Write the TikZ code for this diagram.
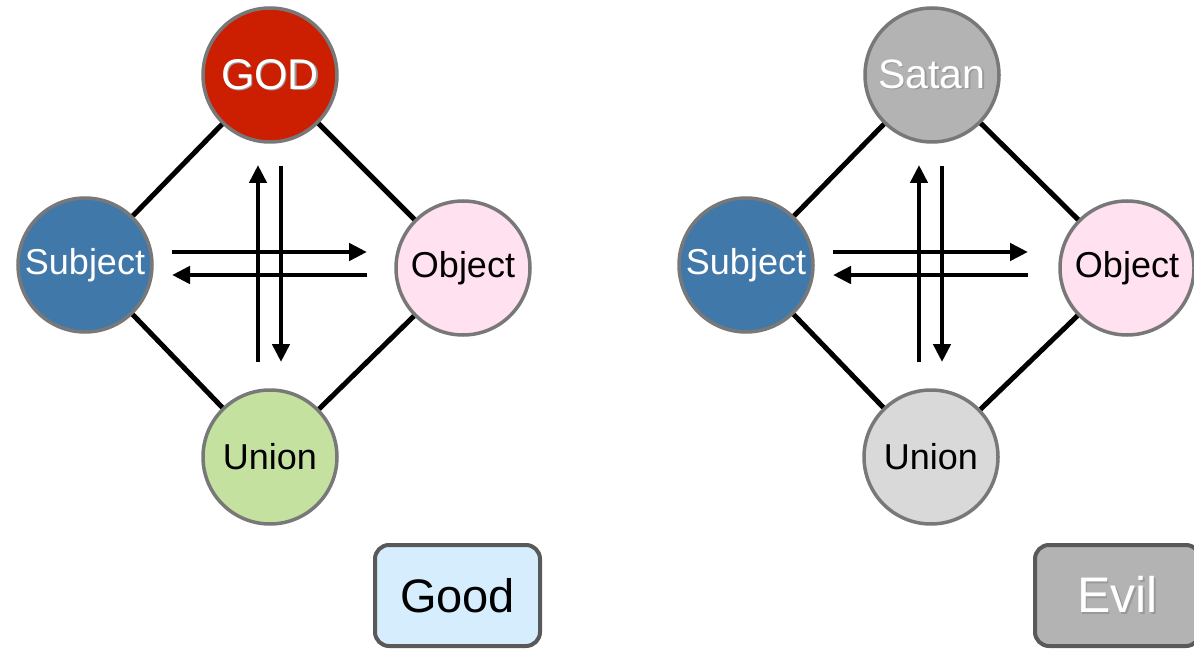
\documentclass[tikz,border=0pt]{standalone}
\usepackage{fontspec}
\setmainfont{Liberation Sans}
\usetikzlibrary{arrows.meta, positioning, calc}

\definecolor{godred}{HTML}{CC1E00}
\definecolor{subjblue}{HTML}{4178AA}
\definecolor{objpink}{HTML}{FFE1F0}
\definecolor{unigreen}{HTML}{C4E1A0}
\definecolor{satgray}{HTML}{B3B3B3}
\definecolor{unigray}{HTML}{D9D9D9}
\definecolor{goodblue}{HTML}{D5EDFC}
\definecolor{ringgray}{HTML}{787878}
\definecolor{boxgray}{HTML}{595959}

% white text with a soft grey shadow
\newcommand{\shadowtxt}[1]{\rlap{\hspace{1.5pt}\raisebox{-1.5pt}{\textcolor{black!40}{#1}}}#1}

\begin{document}
\begin{tikzpicture}[x=1pt, y=-1pt,
  ball/.style={circle, draw=ringgray, line width=3.5pt, minimum size=134pt, inner sep=0pt,
    font=\fontsize{36}{42}\selectfont},
  tag/.style={rectangle, rounded corners=14pt, draw=boxgray, line width=4pt,
    minimum width=165pt, minimum height=101pt, font=\fontsize{47}{54}\selectfont},
  link/.style={line width=5pt},
  flow/.style={line width=4.5pt, -{Triangle[length=18pt, width=17pt]}}]
  \useasboundingbox (0,0) rectangle (1194,652);

  % good side
  \node[ball, fill=godred, text=white, font=\fontsize{43}{50}\selectfont] (god) at (270,75) {\shadowtxt{GOD}};
  \node[ball, fill=subjblue, text=white] (subjL) at (85,265) {Subject};
  \node[ball, fill=objpink] (objL) at (463,268) {Object};
  \node[ball, fill=unigreen] (uniL) at (270,457) {Union};
  \draw[link] (god) -- (subjL);
  \draw[link] (god) -- (objL);
  \draw[link] (subjL) -- (uniL);
  \draw[link] (objL) -- (uniL);
  \coordinate (upL0) at (258,362); \coordinate (upL1) at (258,165);
  \coordinate (dnL0) at (281,166); \coordinate (dnL1) at (281,362);
  \coordinate (rtL0) at (172,252); \coordinate (rtL1) at (367,252);
  \coordinate (lfL0) at (367,275); \coordinate (lfL1) at (172,275);
  \draw[flow] (upL0) -- (upL1);
  \draw[flow] (dnL0) -- (dnL1);
  \draw[flow] (rtL0) -- (rtL1);
  \draw[flow] (lfL0) -- (lfL1);
  \node[tag, fill=goodblue] (good) at (457.5,595.5) {Good};

  % evil side
  \node[ball, fill=satgray, text=white, font=\fontsize{41}{48}\selectfont] (satan) at (932,75) {\shadowtxt{Satan}};
  \node[ball, fill=subjblue, text=white] (subjR) at (746,265) {Subject};
  \node[ball, fill=objpink] (objR) at (1127,268) {Object};
  \node[ball, fill=unigray] (uniR) at (931,457) {Union};
  \draw[link] (satan) -- (subjR);
  \draw[link] (satan) -- (objR);
  \draw[link] (subjR) -- (uniR);
  \draw[link] (objR) -- (uniR);
  \coordinate (upR0) at (919,362); \coordinate (upR1) at (919,165);
  \coordinate (dnR0) at (942,166); \coordinate (dnR1) at (942,362);
  \coordinate (rtR0) at (833,252); \coordinate (rtR1) at (1028,252);
  \coordinate (lfR0) at (1028,275); \coordinate (lfR1) at (833,275);
  \draw[flow] (upR0) -- (upR1);
  \draw[flow] (dnR0) -- (dnR1);
  \draw[flow] (rtR0) -- (rtR1);
  \draw[flow] (lfR0) -- (lfR1);
  \node[tag, fill=satgray, text=white, font=\fontsize{50}{56}\selectfont] (evil) at (1117.5,595.5) {\shadowtxt{Evil}};
\end{tikzpicture}
\end{document}
